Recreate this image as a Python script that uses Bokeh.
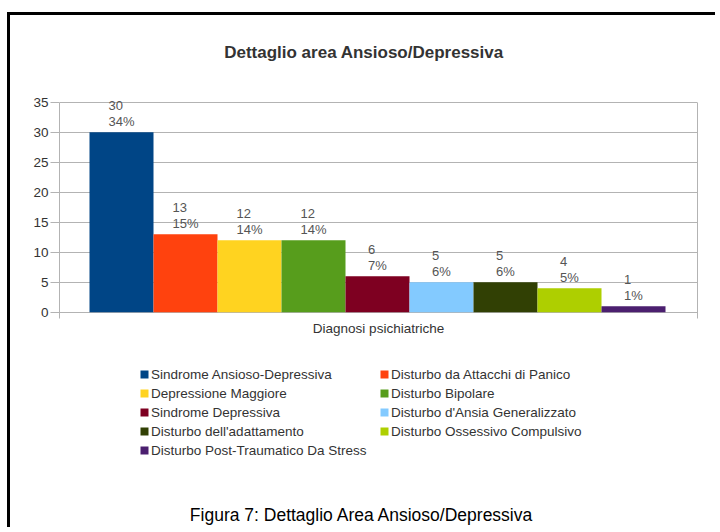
from bokeh.plotting import figure
from bokeh.models import (ColumnDataSource, Range1d, FixedTicker, LabelSet, Label,
                          Legend, LegendItem, LinearAxis)
from bokeh.core.properties import value
from bokeh.embed import file_html
from bokeh.resources import INLINE

categories = [
    "Sindrome Ansioso-Depressiva",
    "Disturbo da Attacchi di Panico",
    "Depressione Maggiore",
    "Disturbo Bipolare",
    "Sindrome Depressiva",
    "Disturbo d'Ansia Generalizzato",
    "Disturbo dell'adattamento",
    "Disturbo Ossessivo Compulsivo",
    "Disturbo Post-Traumatico Da Stress",
]
values = [30, 13, 12, 12, 6, 5, 5, 4, 1]
percents = ["34%", "15%", "14%", "14%", "7%", "6%", "6%", "5%", "1%"]
colors = ["#004586", "#ff420e", "#ffd320", "#579d1c", "#7e0021",
          "#83caff", "#314004", "#aecf00", "#4b1f6f"]
y_ticks = [0, 5, 10, 15, 20, 25, 30, 35]
chart_title = "Dettaglio area Ansioso/Depressiva"
axis_title = "Diagnosi psichiatriche"
caption = "Figura 7: Dettaglio Area Ansioso/Depressiva"

FONT = "Liberation Sans"
FS = 13.5
GRID = "#b3b3b3"

# canvas geometry (the canvas sits inside a 3px black document border)
W, H = 708, 515
OX, OY = 10, 15           # canvas origin in picture pixels
ZERO_Y = 311.7            # picture y of value 0
PX_PER_UNIT_Y = 6.0
BAR0_X = 121.0            # picture x of first bar centre
PX_PER_BAR = 64.0
FRAME_L, FRAME_R = 59, 697

def px_x(pic_x):
    return (pic_x - BAR0_X) / PX_PER_BAR

def px_y(pic_y):
    return (ZERO_Y - pic_y) / PX_PER_UNIT_Y

def text_w(s, fs):
    return sum(0.889 if ch == "%" else 0.556 for ch in s) * fs

idx = list(range(len(values)))
src = ColumnDataSource(dict(
    x=idx, top=values, color=colors,
    vtxt=[str(v) for v in values], ptxt=percents,
    xoff=[-text_w(s, 13) / 2 for s in percents],
))

p = figure(width=W, height=H, output_backend="svg", toolbar_location=None,
           x_axis_location=None,
           x_range=Range1d(px_x(FRAME_L), px_x(FRAME_R)),
           y_range=Range1d(px_y(OY + H), px_y(OY)),
           min_border_left=FRAME_L - OX, min_border_right=OX + W - FRAME_R,
           min_border_top=0, min_border_bottom=0,
           background_fill_color="white", border_fill_color="white",
           outline_line_color=None,
           styles={"margin-left": "7px", "margin-top": "12px",
                   "border-left": "3px solid #000", "border-top": "3px solid #000"})

r = p.vbar(x="x", top="top", width=1.0, bottom=0, color="color",
           line_color=None, source=src)

# y axis
p.yaxis.ticker = FixedTicker(ticks=y_ticks)
p.yaxis.bounds = (-1, 35)
p.yaxis.minor_tick_line_color = None
p.yaxis.major_tick_out = 9
p.yaxis.major_tick_in = 0
p.yaxis.major_tick_line_color = GRID
p.yaxis.axis_line_color = GRID
p.yaxis.major_label_text_font = FONT
p.yaxis.major_label_text_font_size = f"{FS}px"
p.yaxis.major_label_text_color = "#333333"
p.yaxis.major_label_standoff = 2
p.ygrid.ticker = FixedTicker(ticks=y_ticks)
p.ygrid.grid_line_color = GRID
p.xgrid.grid_line_color = None

# right wall of the plot area
right_ax = LinearAxis(ticker=FixedTicker(ticks=[]), bounds=(-1, 35),
                      axis_line_color=GRID, major_tick_line_color=None,
                      minor_tick_line_color=None, major_label_text_font_size="0px")
p.add_layout(right_ax, "right")

# bar labels
lab_common = dict(source=src, x="x", y="top", x_offset="xoff", text_align="left",
                  text_baseline="middle", text_font=value(FONT),
                  text_font_size="13px", text_color="#555555")
p.add_layout(LabelSet(text="vtxt", y_offset=26.5, **lab_common))
p.add_layout(LabelSet(text="ptxt", y_offset=10.5, **lab_common))

p.add_layout(Label(x=px_x(363.5), y=px_y(52), text=chart_title, text_align="center",
                   text_baseline="middle", text_font=FONT, text_font_style="bold",
                   text_font_size="17px", text_color="#333333"))
p.add_layout(Label(x=px_x(378), y=px_y(327.5), text=axis_title, text_align="center",
                   text_baseline="middle", text_font=FONT,
                   text_font_size=f"{FS}px", text_color="#333333"))
p.add_layout(Label(x=px_x(361.5), y=px_y(514), text=caption, text_align="center",
                   text_baseline="middle", text_font=FONT,
                   text_font_size="17.5px", text_color="#000000"))

# legends (two columns)
leg_common = dict(orientation="vertical", glyph_width=10, glyph_height=10,
                  label_standoff=2, label_height=19, spacing=0, padding=0, margin=0,
                  border_line_color=None, background_fill_alpha=0,
                  label_text_font=FONT, label_text_font_size=f"{FS}px",
                  label_text_color="#333333", label_text_baseline="middle")
col1 = [0, 2, 4, 6, 8]
col2 = [1, 3, 5, 7]
frame_bottom = OY + H
leg1 = Legend(items=[LegendItem(label=value(categories[i]), renderers=[r], index=i) for i in col1],
              location=(139 - FRAME_L, frame_bottom - (364.5 + 19 * len(col1))), **leg_common)
leg2 = Legend(items=[LegendItem(label=value(categories[i]), renderers=[r], index=i) for i in col2],
              location=(379 - FRAME_L, frame_bottom - (364.5 + 19 * len(col2))), **leg_common)
p.add_layout(leg1, "center")
p.add_layout(leg2, "center")

open("out.html", "w").write(file_html(p, INLINE))
